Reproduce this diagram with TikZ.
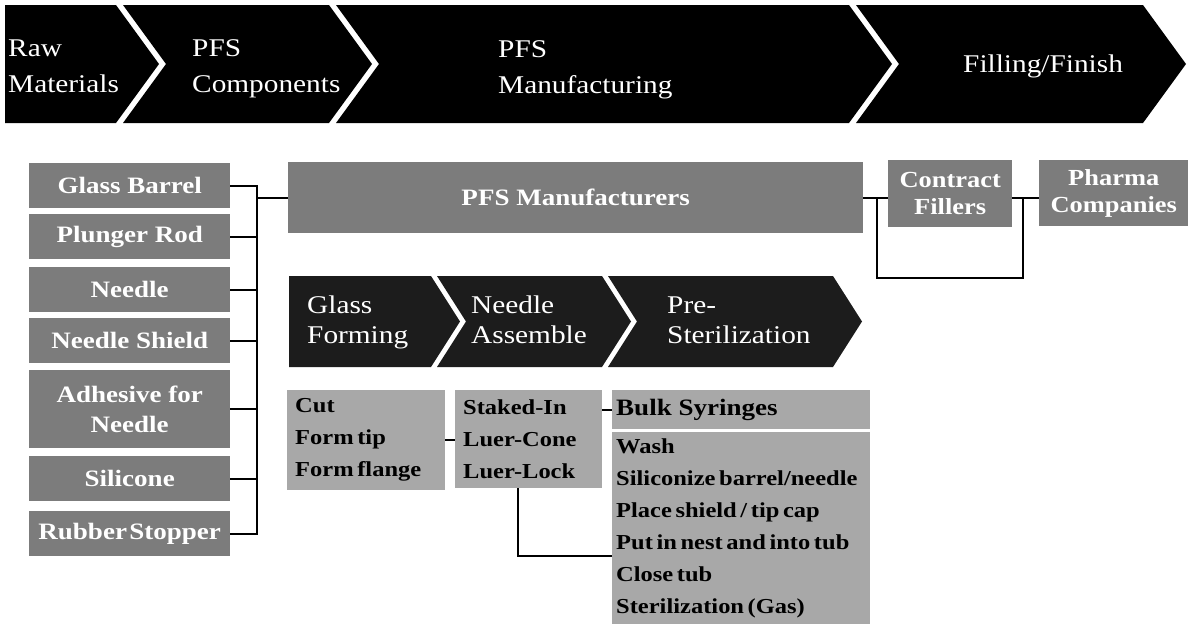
\documentclass[tikz,border=0pt]{standalone}
\usepackage{fontspec}
\setmainfont{Liberation Serif}[FakeStretch=1.15]
\definecolor{boxdark}{HTML}{7C7C7C}
\definecolor{boxlight}{HTML}{A8A8A8}
\definecolor{lowbar}{HTML}{1C1C1C}
\tikzset{
  darkbox/.style={fill=boxdark, text=white, font=\bfseries\fontsize{23.5}{30}\selectfont,
    inner sep=0pt, anchor=north west, align=center},
  lightbox/.style={fill=boxlight, text=black,
    font=\bfseries\fontsize{21.3}{32}\selectfont,
    execute at begin node={\spaceskip=0.17em plus 0.05em\relax},
    inner xsep=8pt, inner ysep=0pt, anchor=north west, align=flush left},
  barlabel/.style={text=white, font=\fontsize{25.5}{30}\selectfont, anchor=base west, inner sep=0pt},
  conn/.style={draw=black, line width=2.2pt},
}
\begin{document}
\begin{tikzpicture}[x=1pt, y=-1pt]
\useasboundingbox (0,0) rectangle (1189,625);
\fill[white] (0,0) rectangle (1189,625);

% value chain along the top
\fill[black] (5,5) -- (116,5) -- (159,64) -- (116,123) -- (5,123) -- cycle;
\fill[black] (123,5) -- (329,5) -- (372,64) -- (329,123) -- (123,123) -- (166,64) -- cycle;
\fill[black] (336,5) -- (849,5) -- (892,64) -- (849,123) -- (336,123) -- (379,64) -- cycle;
\fill[black] (856,5) -- (1143,5) -- (1186,64) -- (1143,123) -- (856,123) -- (899,64) -- cycle;
\node[barlabel] (raw1) at (8,56) {Raw};
\node[barlabel] (raw2) at (8,92) {Materials};
\node[barlabel] (comp1) at (192,56) {PFS};
\node[barlabel] (comp2) at (192,92) {Components};
\node[barlabel] (manu1) at (498,57) {PFS};
\node[barlabel] (manu2) at (498,93) {Manufacturing};
\node[barlabel] (fill) at (963,72) {Filling/Finish};

% raw material components
\node[darkbox, minimum width=201pt, minimum height=45pt] (gb) at (29,163) {Glass Barrel};
\node[darkbox, minimum width=201pt, minimum height=45pt] (pr) at (29,214) {Plunger Rod};
\node[darkbox, minimum width=201pt, minimum height=45pt] (nd) at (29,267) {Needle};
\node[darkbox, minimum width=201pt, minimum height=45pt] (ns) at (29,318) {Needle Shield};
\node[darkbox, minimum width=201pt, minimum height=78pt] (ad) at (29,370) {Adhesive for\\Needle};
\node[darkbox, minimum width=201pt, minimum height=45pt] (si) at (29,456) {Silicone};
\node[darkbox, minimum width=201pt, minimum height=45pt] (rs) at (29,511) {Rubber\hspace{0.1em}Stopper};

% manufacturers and fillers
\node[darkbox, minimum width=575pt, minimum height=71pt] (pfs) at (288,162) {PFS Manufacturers};
\node[darkbox, minimum width=124pt, minimum height=67pt, font=\bfseries\fontsize{23}{27}\selectfont] (cf) at (888,160) {Contract\\Fillers};
\node[darkbox, minimum width=149pt, minimum height=66pt, font=\bfseries\fontsize{23}{27}\selectfont] (ph) at (1039,160) {Pharma\\Companies};

% manufacturing steps
\fill[lowbar] (289,276) -- (431,276) -- (460,321.5) -- (431,367) -- (289,367) -- cycle;
\fill[lowbar] (437,276) -- (602,276) -- (631,321.5) -- (602,367) -- (437,367) -- (466,321.5) -- cycle;
\fill[lowbar] (608,276) -- (833,276) -- (862,321.5) -- (833,367) -- (608,367) -- (637,321.5) -- cycle;
\node[barlabel] (gf1) at (307,313) {Glass};
\node[barlabel] (gf2) at (307,343) {Forming};
\node[barlabel] (na1) at (471,313) {Needle};
\node[barlabel] (na2) at (471,343) {Assemble};
\node[barlabel] (ps1) at (667,313) {Pre-};
\node[barlabel] (ps2) at (667,343) {Sterilization};

% step details
\node[lightbox, text width=142pt, minimum height=100pt] (cut) at (287,390) {Cut\\Form tip\\Form flange};
\node[lightbox, text width=131pt, minimum height=98pt] (staked) at (455,390) {Staked-In\\Luer-Cone\\Luer-Lock};
\node[lightbox, inner xsep=4pt, text width=250pt, minimum height=39pt,
      execute at begin node={\spaceskip=0pt\relax}, font=\bfseries\fontsize{23.5}{28}\selectfont] (bulk) at (612,390) {Bulk Syringes};
\node[lightbox, inner xsep=4pt, text width=250pt, minimum height=192pt] (list) at (612,432)
  {Wash\\Siliconize barrel/needle\\Place shield / tip cap\\Put in nest and into tub\\Close tub\\Sterilization (Gas)};

% connectors
\coordinate (bus) at (257,0);
\draw[conn] (gb.east) -| (bus |- rs.east) -- (rs.east);
\foreach \b in {pr,nd,ns,ad,si} \draw[conn] (\b.east) -- (\b.east -| bus);
\draw[conn] (bus |- pfs.west) -- (pfs.west);

\coordinate (lp) at (877,278);
\coordinate (rp) at (1023,278);
\draw[conn] (pfs.east) -- (pfs.east -| cf.west);
\draw[conn] (pfs.east -| lp) -- (lp) -- (rp) -- (rp |- pfs.east);
\draw[conn] (pfs.east -| cf.east) -- (pfs.east -| ph.west);

\draw[conn] (cut.east) -- (cut.east -| staked.west);
\draw[conn] (bulk.west -| staked.east) -- (bulk.west);
\coordinate (lk) at (518,556);
\draw[conn] (staked.south -| lk) -- (lk) -- (lk -| list.west);
\end{tikzpicture}
\end{document}
